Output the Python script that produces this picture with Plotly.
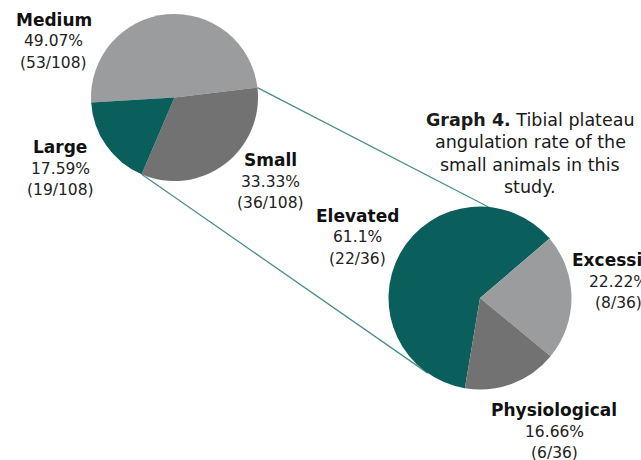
import math
import plotly.graph_objects as go

# ---------------- data ----------------
size_labels = ["Medium", "Small", "Large"]
size_counts = [53, 36, 19]
size_pct = ["49.07%", "33.33%", "17.59%"]
size_total = 108

angle_labels = ["Elevated", "Excessive", "Physiological"]
angle_counts = [22, 8, 6]
angle_pct = ["61.1%", "22.22%", "16.66%"]
angle_total = 36

caption_lines = ["<b>Graph 4.</b> Tibial plateau", "angulation rate of the",
                 "small animals in this", "study."]

# ---------------- layout / style ----------------
W, H = 641, 460
TEAL = "#0a5e5b"
LIGHT = "#9b9c9d"
DARK = "#727272"
LINE = "#4a8e88"
FONT = "DejaVu Sans"

top_c, top_r, top_rot = (174.5, 97.5), 83.5, -93.5
bot_c, bot_r, bot_rot = (480.0, 298.0), 91.5, -170.5


def px(x):
    return x / W


def py(y):
    return 1 - y / H


def domain(c, r):
    return dict(x=[px(c[0] - r), px(c[0] + r)], y=[py(c[1] + r), py(c[1] - r)])


fig = go.Figure()
fig.add_trace(go.Pie(labels=size_labels, values=size_counts, sort=False,
                     direction="clockwise", rotation=top_rot,
                     marker=dict(colors=[LIGHT, DARK, TEAL], line=dict(width=0)),
                     textinfo="none", hoverinfo="skip", showlegend=False,
                     domain=domain(top_c, top_r)))
fig.add_trace(go.Pie(labels=angle_labels, values=angle_counts, sort=False,
                     direction="clockwise", rotation=bot_rot,
                     marker=dict(colors=[TEAL, LIGHT, DARK], line=dict(width=0)),
                     textinfo="none", hoverinfo="skip", showlegend=False,
                     domain=domain(bot_c, bot_r)))


def boundary_point(c, r, rot, values, k):
    """Point on the pie edge at the end of slice k (clockwise from rotation)."""
    ang = rot + 360.0 * sum(values[:k + 1]) / sum(values)
    a = math.radians(ang)
    return c[0] + r * math.sin(a), c[1] - r * math.cos(a)


def tangent_point(p, c, r):
    dx, dy = p[0] - c[0], p[1] - c[1]
    d = math.hypot(dx, dy)
    base = math.atan2(dy, dx)
    a = base - math.acos(r / d)
    return c[0] + r * math.cos(a), c[1] + r * math.sin(a)


# connector lines
p1 = boundary_point(top_c, top_r, top_rot, size_counts, 0)   # Medium/Small
q1 = boundary_point(bot_c, bot_r, bot_rot, angle_counts, 0)  # Elevated/Excessive
p2 = boundary_point(top_c, top_r, top_rot, size_counts, 1)   # Small/Large
q2 = tangent_point(p2, bot_c, bot_r)

for a, b in [(p1, q1), (p2, q2)]:
    fig.add_shape(type="line", xref="paper", yref="paper", layer="below",
                  x0=px(a[0]), y0=py(a[1]), x1=px(b[0]), y1=py(b[1]),
                  line=dict(color=LINE, width=1.3))


def add_text(x, y, text, size, bold=False, color="#1a1a1a"):
    fig.add_annotation(x=px(x), y=py(y), xref="paper", yref="paper",
                       text=f"<b>{text}</b>" if bold else text, showarrow=False,
                       xanchor="center", yanchor="middle",
                       font=dict(family=FONT, size=size, color=color))


def add_label(x, y, name, pct, n, total):
    add_text(x, y, name, 17, bold=True, color="#111111")
    add_text(x, y + 21.5, pct, 15.5, color="#222222")
    add_text(x, y + 42.5, f"({n}/{total})", 15.5, color="#222222")


size_pos = [(53.5, 20), (270.5, 160), (60, 147)]
for (x, y), name, pct, n in zip(size_pos, size_labels, size_pct, size_counts):
    add_label(x, y, name, pct, n, size_total)

angle_pos = [(357.5, 216), (618, 260), (554, 410)]
for (x, y), name, pct, n in zip(angle_pos, angle_labels, angle_pct, angle_counts):
    add_label(x, y, name, pct, n, angle_total)

for i, line in enumerate(caption_lines):
    add_text(530, 120 + 22.5 * i, line, 17.5, color="#1a1a1a")

fig.update_layout(width=W, height=H, autosize=False,
                  margin=dict(l=0, r=0, t=0, b=0),
                  paper_bgcolor="white", plot_bgcolor="white")

fig.write_html("out.html")
